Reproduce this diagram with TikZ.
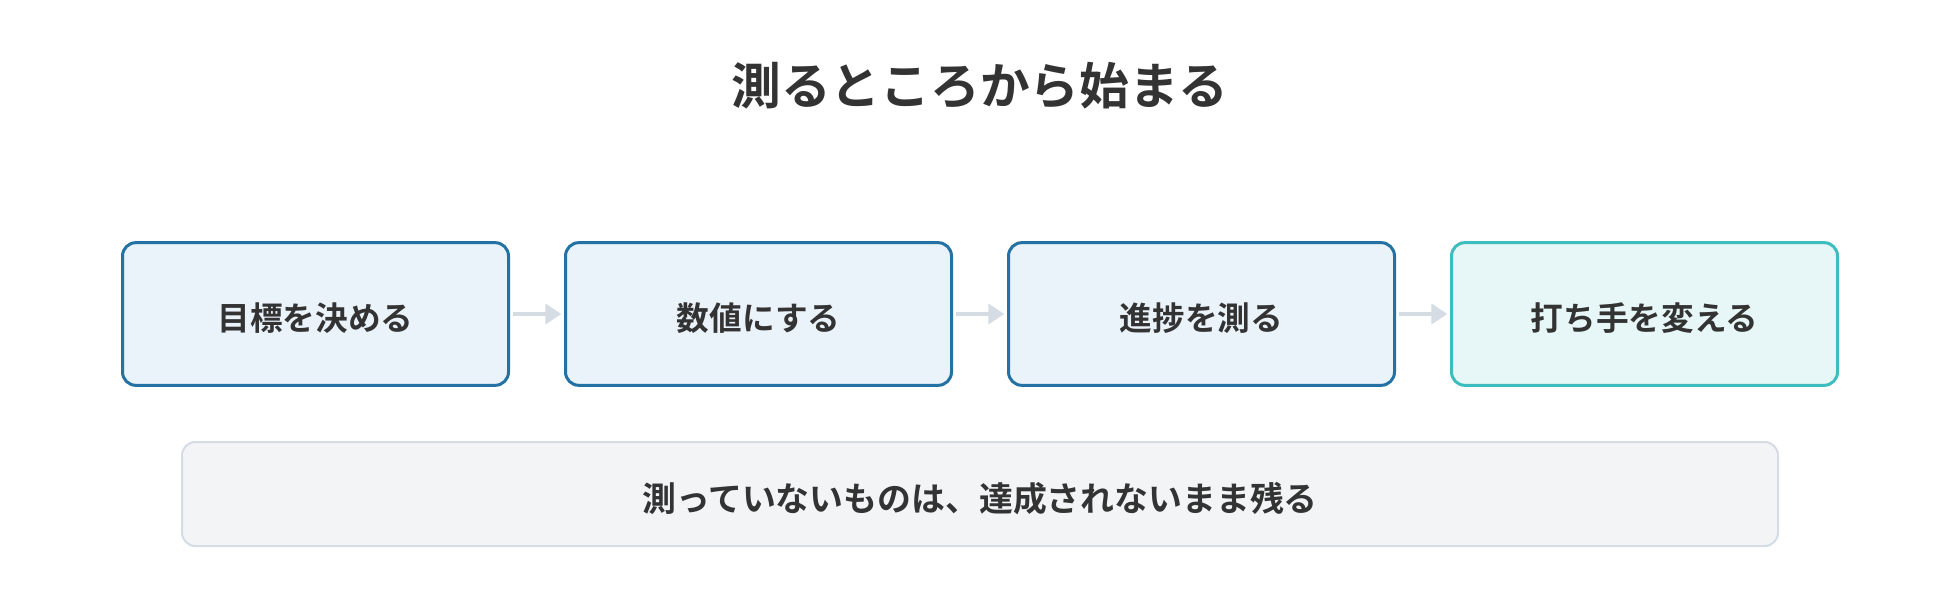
\documentclass[tikz,border=0pt]{standalone}
\usepackage{fontspec}
\setmainfont{Noto Sans CJK JP}[BoldFont={Noto Sans CJK JP Bold}]
\usetikzlibrary{arrows.meta}

\definecolor{inkgray}{HTML}{333333}
\definecolor{stepblue}{HTML}{2471A3}
\definecolor{stepfill}{HTML}{EAF2FA}
\definecolor{lastteal}{HTML}{3DBDBD}
\definecolor{lastfill}{HTML}{E7F7F7}
\definecolor{notefill}{HTML}{F2F4F6}
\definecolor{noteline}{HTML}{D5DCE4}

\begin{document}
\begin{tikzpicture}[x=0.75pt,y=-0.75pt,
    stepbox/.style={draw=stepblue,fill=stepfill,line width=2.25pt,rounded corners=10pt,
      minimum width=289.5pt,minimum height=107pt,text=inkgray,
      text height=27.5pt,text depth=3pt,
      font=\fontsize{24.5}{28}\selectfont\bfseries},
    lastbox/.style={stepbox,draw=lastteal,fill=lastfill},
    notebox/.style={draw=noteline,fill=notefill,line width=1.5pt,rounded corners=10pt,
      minimum width=1197pt,minimum height=78pt,text=inkgray,
      text height=28.5pt,text depth=3pt,
      font=\fontsize{25.4}{29}\selectfont\bfseries},
    flow/.style={draw=noteline,line width=3pt,-{Triangle[length=12pt,width=15pt]},
      shorten <=2pt,shorten >=2pt}]
  \useasboundingbox (0,0) rectangle (1960,600);
  % title
  \node[text=inkgray,font=\fontsize{37.3}{44}\selectfont\bfseries] (title) at (980,86)
    {測るところから始まる};
  % steps
  \node[stepbox] (goal) at (315.5,314) {目標を決める};
  \node[stepbox] (num) at (758.5,314) {数値にする};
  \node[stepbox] (track) at (1201.5,314) {進捗を測る};
  \node[lastbox] (change) at (1644.5,314) {打ち手を変える};
  \draw[flow] (goal) -- (num);
  \draw[flow] (num) -- (track);
  \draw[flow] (track) -- (change);
  % note
  \node[notebox] (note) at (980,494) {測っていないものは、達成されないまま残る};
\end{tikzpicture}
\end{document}
